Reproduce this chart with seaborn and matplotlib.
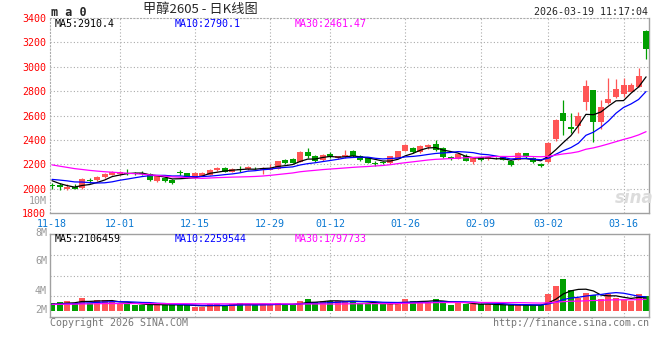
import numpy as np
import pandas as pd
import matplotlib
matplotlib.use("Agg")
import matplotlib.pyplot as plt
import seaborn as sns

# ---------------- data ----------------
tick_labels = ["11-18", "12-01", "12-15", "12-29", "01-12", "01-26", "02-09", "03-02", "03-16"]
tick_index = [0, 9, 19, 29, 37, 47, 57, 66, 76]

opens = [2030, 2033, 2000, 2014, 2002, 2070, 2068, 2093, 2112, 2118,
         2128, 2129, 2130, 2117, 2063, 2084, 2074, 2132, 2125, 2090,
         2107, 2115, 2150, 2172, 2140, 2160, 2157, 2172, 2153, 2155,
         2165, 2235, 2243, 2219, 2298, 2271, 2235, 2282, 2249, 2256,
         2309, 2266, 2255, 2210, 2218, 2208, 2252, 2309, 2331, 2298,
         2342, 2364, 2330, 2260, 2245, 2270, 2221, 2257, 2243, 2252,
         2256, 2230, 2238, 2292, 2255, 2202, 2216, 2407, 2619, 2508,
         2510, 2711, 2807, 2548, 2703, 2755, 2774, 2793, 2836, 3296]
closes = [2025, 2014, 2016, 1998, 2076, 2064, 2098, 2117, 2139, 2139,
          2122, 2120, 2118, 2070, 2100, 2065, 2045, 2126, 2090, 2125,
          2131, 2156, 2172, 2140, 2158, 2154, 2178, 2166, 2170, 2170,
          2225, 2210, 2212, 2298, 2266, 2228, 2274, 2256, 2266, 2280,
          2266, 2236, 2212, 2205, 2213, 2266, 2307, 2356, 2302, 2348,
          2358, 2318, 2256, 2243, 2284, 2230, 2257, 2232, 2256, 2248,
          2238, 2190, 2292, 2260, 2215, 2185, 2375, 2562, 2556, 2493,
          2597, 2839, 2548, 2668, 2733, 2815, 2847, 2853, 2921, 3149]
highs = [2048, 2045, 2040, 2040, 2085, 2085, 2105, 2125, 2142, 2142,
         2160, 2135, 2145, 2125, 2105, 2090, 2078, 2150, 2128, 2135,
         2135, 2165, 2180, 2176, 2168, 2185, 2185, 2180, 2175, 2205,
         2230, 2245, 2248, 2305, 2330, 2275, 2285, 2304, 2270, 2315,
         2320, 2272, 2260, 2225, 2230, 2270, 2312, 2365, 2340, 2355,
         2365, 2398, 2340, 2268, 2290, 2282, 2262, 2262, 2262, 2258,
         2262, 2234, 2298, 2296, 2262, 2212, 2380, 2570, 2725, 2619,
         2625, 2888, 2810, 2725, 2910, 2896, 2910, 2869, 2992, 3300]
lows = [1997, 1992, 1990, 1995, 1998, 2050, 2062, 2088, 2108, 2112,
        2112, 2115, 2112, 2060, 2055, 2055, 2038, 2115, 2085, 2086,
        2100, 2110, 2145, 2135, 2135, 2135, 2150, 2160, 2120, 2150,
        2160, 2205, 2208, 2215, 2255, 2222, 2230, 2250, 2244, 2252,
        2260, 2230, 2208, 2185, 2200, 2204, 2248, 2305, 2296, 2294,
        2325, 2312, 2250, 2238, 2240, 2225, 2205, 2226, 2238, 2240,
        2232, 2185, 2234, 2255, 2210, 2180, 2212, 2393, 2442, 2456,
        2460, 2646, 2380, 2488, 2692, 2747, 2755, 2790, 2832, 3065]
# closes of the 29 sessions before the first visible one (only feed the moving averages)
prior_closes = [2330, 2315, 2305, 2290, 2285, 2275, 2270, 2260, 2255, 2250,
                2240, 2245, 2235, 2230, 2235, 2225, 2220, 2215, 2210, 2200,
                2070, 2080, 2085, 2088, 2110, 2130, 2100, 2060, 2010]
# volume (millions)
volumes = [1.37, 1.55, 1.73, 1.31, 2.26, 1.43, 1.90, 1.90, 1.55, 1.13,
           1.13, 1.07, 1.07, 1.07, 1.07, 1.00, 1.00, 1.07, 1.00, 0.65,
           0.65, 1.13, 1.13, 0.95, 1.19, 1.37, 1.19, 0.95, 1.13, 0.95,
           1.37, 1.19, 1.00, 1.73, 2.08, 1.55, 1.73, 1.73, 1.73, 1.73,
           1.73, 1.31, 1.31, 1.13, 1.13, 1.31, 1.55, 2.08, 1.73, 1.55,
           1.55, 2.08, 1.73, 1.00, 1.31, 1.19, 1.19, 1.13, 1.13, 0.95,
           0.95, 0.95, 1.13, 0.95, 0.95, 0.95, 2.98, 4.40, 5.70, 3.70,
           2.26, 3.15, 2.80, 2.08, 2.98, 2.26, 1.90, 1.73, 2.98, 2.56]
prior_volumes = [1.2, 1.1, 1.3, 1.2, 1.0, 1.1, 1.2, 1.3, 1.1, 1.0,
                 1.2, 1.1, 1.0, 1.2, 1.3, 1.1, 1.2, 1.0, 1.1, 1.2,
                 1.1, 1.0, 1.2, 1.1, 1.0, 1.1, 1.2, 1.0, 1.1]

price_ma_text = ["MA5:2910.4", "MA10:2790.1", "MA30:2461.47"]
vol_ma_text = ["MA5:2106459", "MA10:2259544", "MA30:1797733"]
price_ticks = [1800, 2000, 2200, 2400, 2600, 2800, 3000, 3200, 3400]

# ---------------- styling ----------------
sns.set_theme(style="white")
MONO = ["DejaVu Sans Mono"]
plt.rcParams["font.family"] = MONO
RED = "#ff5656"
GREEN = "#009f00"
GRID = "#ababab"
BORDER = "#a0a0a0"
XBLUE = "#0a78d2"
MA_COL = ["#000000", "#0000ff", "#ff00ff"]

W, H = 660, 360
fig = plt.figure(figsize=(W / 100, H / 100), dpi=100)
fig.patch.set_facecolor("white")


def px_axes(l, t, r, b):
    return fig.add_axes([l / W, 1 - b / H, (r - l) / W, (b - t) / H])


def ptext(x, y, s, ha="left", va="center", **kw):
    kw.setdefault("fontsize", 7.2)
    kw.setdefault("family", MONO)
    fig.text(x / W, 1 - y / H, s, ha=ha, va=va, **kw)


n = len(closes)
idx = np.arange(n)
o = np.array(opens, float)
c = np.array(closes, float)
hi = np.array(highs, float)
lo = np.array(lows, float)
up = c >= o
cols = np.where(up, RED, GREEN)

all_close = pd.Series(prior_closes + closes, dtype=float)
all_vol = pd.Series(prior_volumes + volumes, dtype=float)
k = len(prior_closes)
ma_price = [all_close.rolling(w).mean().to_numpy()[k:] for w in (5, 10, 30)]
ma_vol = [all_vol.rolling(w).mean().to_numpy()[k:] for w in (5, 10, 30)]

x0px, step = 52.0, 7.52
xlim = ((50 - x0px) / step, (649 - x0px) / step)

# ---------------- price panel ----------------
axp = px_axes(50, 18, 649, 213)
axp.set_facecolor("white")
for yv in price_ticks[1:-1]:
    axp.axhline(yv, color=GRID, ls=(0, (1, 2)), lw=0.8, zorder=0)
for xi in tick_index[1:]:
    axp.axvline(xi, color=GRID, ls=(0, (1, 2)), lw=0.8, zorder=0)

axp.vlines(idx, lo, hi, colors=cols, lw=0.9, zorder=2)
axp.bar(idx, np.maximum(np.abs(c - o), 7), bottom=np.minimum(o, c), width=0.8,
        color=cols, linewidth=0, zorder=3)
for ma, col in zip(ma_price, MA_COL):
    sns.lineplot(x=idx, y=ma, ax=axp, color=col, lw=0.9, zorder=4)

axp.set_xlim(*xlim)
axp.set_ylim(1800, 3400)
axp.set_yticks(price_ticks)
axp.set_yticklabels([str(t) for t in price_ticks], color="#ff0000", fontsize=7.2, family=MONO)
axp.set_xticks(tick_index)
axp.set_xticklabels(tick_labels, color=XBLUE, fontsize=7.2, family=MONO)
axp.tick_params(axis="both", length=0)
axp.tick_params(axis="y", pad=3)
axp.tick_params(axis="x", pad=4)
axp.set_xlabel("")
axp.set_ylabel("")
for side in ("left", "top"):
    axp.spines[side].set_color(GRID)
    axp.spines[side].set_linestyle((0, (1, 2)))
    axp.spines[side].set_linewidth(0.8)
for side in ("right", "bottom"):
    axp.spines[side].set_color(BORDER)
    axp.spines[side].set_linewidth(1.0)

# ---------------- volume panel ----------------
axv = px_axes(50, 234, 649, 317.3)
axv.set_facecolor("white")
vlim = (-(317.3 - 310.7) / 5.6, (310.7 - 234) / 5.6)
for q in (1, 2, 3):
    axv.axhline(vlim[0] + (vlim[1] - vlim[0]) * q / 4, color=GRID, ls=(0, (1, 2)), lw=0.8, zorder=0)
for xi in tick_index[1:]:
    axv.axvline(xi, color=GRID, ls=(0, (1, 2)), lw=0.8, zorder=0)

vdf = pd.DataFrame({"i": idx, "vol": volumes, "dir": np.where(up, "up", "down")})
sns.barplot(data=vdf, x="i", y="vol", hue="dir", palette={"up": RED, "down": GREEN},
            dodge=False, legend=False, width=0.8, native_scale=True, errorbar=None,
            saturation=1, linewidth=0, ax=axv, zorder=2)
for ma, col in zip(ma_vol, MA_COL):
    sns.lineplot(x=idx, y=ma, ax=axv, color=col, lw=0.9, zorder=4)
axv.set_xlim(*xlim)
axv.set_ylim(*vlim)
axv.set_xticks([])
axv.set_yticks([])
axv.set_xlabel("")
axv.set_ylabel("")
for side in axv.spines:
    axv.spines[side].set_color(BORDER)
    axv.spines[side].set_linewidth(1.0)

# ---------------- texts ----------------
ptext(51, 12.5, "m a 0", weight="bold", fontsize=8.5)
ptext(200, 10, "甲醇2605 - 日K线图", ha="center", fontsize=9.5,
      family=["Noto Sans CJK SC", "DejaVu Sans"])
ptext(648, 12, "2026-03-19 11:17:04", ha="right")
for s, x, col in zip(price_ma_text, (55, 175, 295), MA_COL):
    ptext(x, 24, s, color=col)
for s, x, col in zip(vol_ma_text, (55, 175, 295), MA_COL):
    ptext(x, 238.5, s, color=col)
ptext(47, 200.5, "10M", ha="right", color="#999999")
for s, y in zip(["8M", "6M", "4M", "2M"], [233, 261, 291, 310]):
    ptext(47, y, s, ha="right", color="#999999")
ptext(50, 323.5, "Copyright 2026 SINA.COM", color="#777777")
ptext(649, 323.5, "http://finance.sina.com.cn", ha="right", color="#777777")
ptext(634, 198, "sina", ha="center", fontsize=12, style="italic", weight="bold",
      color="#dcdcdc", family=["DejaVu Sans"])

fig.savefig("out.png", dpi=100)
